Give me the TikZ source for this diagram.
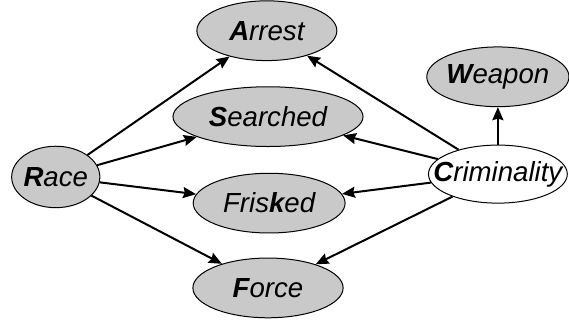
\documentclass[tikz,border=0pt]{standalone}
\usepackage{fontspec}
\setmainfont{Liberation Sans}
\usepackage{tikz}
\usetikzlibrary{shapes.geometric, arrows.meta}
\definecolor{vargray}{gray}{0.79}
\newcommand{\vlabel}[1]{\makebox[0pt]{#1}}
\tikzstyle{var} = [ellipse, draw=black, line width=0.5pt, fill=vargray, inner sep=0pt, minimum height=1.05cm, font=\fontsize{13.8}{16}\selectfont\itshape]
\tikzstyle{hidden} = [var, fill=white]
\tikzstyle{arrow} = [line width=1pt,-{Stealth[length=6.5pt,width=5.5pt,inset=0.8pt]}]

\begin{document}
\begin{tikzpicture}
\useasboundingbox (0,0) rectangle (10,5.64);

\node(race)[var,minimum width=1.55cm,minimum height=1.08cm] at (0.98,2.53) {\vlabel{\textbf{R}ace}};
\node(arrest)[var,minimum width=2.46cm] at (4.69,5.10) {\vlabel{\textbf{A}rrest}};
\node(searched)[var,minimum width=3.34cm] at (4.71,3.59) {\vlabel{\textbf{S}earched}};
\node(frisked)[var,minimum width=2.67cm] at (4.73,2.07) {\vlabel{Fris\textbf{k}ed}};
\node(force)[var,minimum width=2.64cm] at (4.71,0.58) {\vlabel{\textbf{F}orce}};
\node(weapon)[var,minimum width=2.50cm] at (8.75,4.29) {\vlabel{\textbf{W}eapon}};
\node(crime)[hidden,minimum width=2.44cm,minimum height=1.02cm] at (8.75,2.58) {\vlabel{\textbf{C}riminality}};

% race
\draw [arrow] (race) -- (arrest);
\draw [arrow] (race) -- (searched);
\draw [arrow] (race) -- (frisked);
\draw [arrow] (race) -- (force);

% criminality
\draw [arrow] (crime) -- (arrest);
\draw [arrow] (crime) -- (searched);
\draw [arrow] (crime) -- (frisked);
\draw [arrow] (crime) -- (force);
\draw [arrow] (crime) -- (weapon);
\end{tikzpicture}
\end{document}
